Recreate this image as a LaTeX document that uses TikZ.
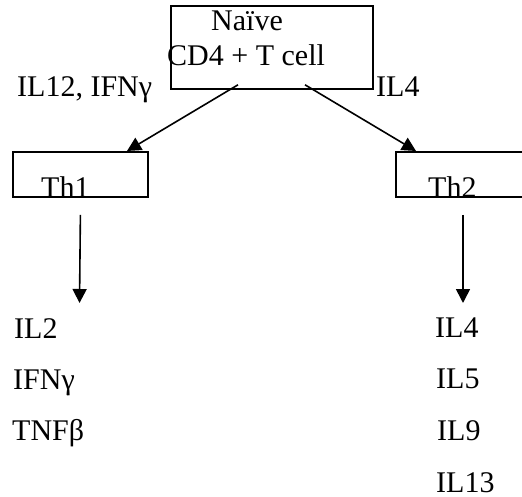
\documentclass[tikz,border=0pt]{standalone}
\usepackage{fontspec}
\setmainfont{Liberation Serif}
\usetikzlibrary{arrows.meta,calc}
\begin{document}
\begin{tikzpicture}[x=1pt,y=-1pt,
  cellbox/.style={draw, line width=1.8pt, inner sep=0pt, anchor=north west},
  lbl/.style={anchor=base west, inner sep=0pt, font=\fontsize{30}{36}\selectfont},
  link/.style={line width=1.6pt, -{Triangle[width=14pt,length=14pt]}}]
\useasboundingbox (0,0) rectangle (522,497);
\clip (0,0) rectangle (522,497);

% box texts (the Th labels sit on the lower border)
\node[lbl] (naivetop) at (211,31) {Naïve};
\node[lbl] (naivebot) at (167,66) {CD4 + T cell};
\node[lbl] (th1txt) at (41,198) {Th1};
\node[lbl] (th2txt) at (428,198) {Th2};

% cell boxes
\node[cellbox, minimum width=202pt, minimum height=83pt] (naive) at (170,5) {};
\node[cellbox, minimum width=135pt, minimum height=45pt] (th1) at (12,151) {};
\node[cellbox, minimum width=150pt, minimum height=45pt] (th2) at (395,151) {};

% signals driving differentiation
\node[lbl] (sig1) at (17,97) {IL12, IFNγ};
\node[lbl] (sig2) at (376,97) {IL4};

% secreted cytokines
\node[lbl] (il2)  at (14,338) {IL2};
\node[lbl] (ifng) at (13,389) {IFNγ};
\node[lbl] (tnfb) at (12,440) {TNFβ};
\node[lbl] (il4)  at (435,337) {IL4};
\node[lbl] (il5)  at (436,388) {IL5};
\node[lbl] (il9)  at (437,440) {IL9};
\node[lbl] (il13) at (436,492) {IL13};

% arrow ends above the cytokine lists
\coordinate (out1) at (79.5,303);
\coordinate (out2) at (463,303);

% connectors
\draw[link] ($(naive.south west)+(68,-5)$) -- ($(th1.north west)+(115,0)$);
\draw[link] ($(naive.south west)+(135,-5)$) -- ($(th2.north west)+(21,0)$);
\draw[link] ($(th1.south)+(0,17)$) -- (out1);
\draw[link] ($(th2.south west)+(68,17)$) -- (out2);
\end{tikzpicture}
\end{document}
